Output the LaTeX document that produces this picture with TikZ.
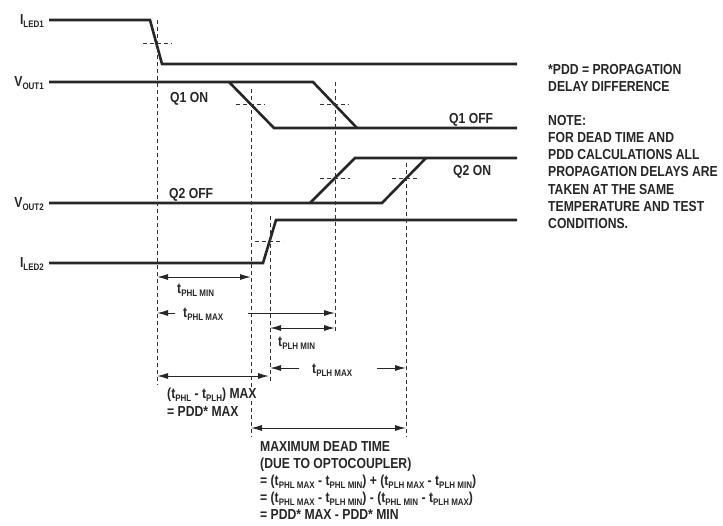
\documentclass[tikz,border=0pt]{standalone}
\usepackage{fontspec}
\setmainfont{Liberation Sans}[FakeStretch=0.84]
\usetikzlibrary{arrows.meta}
\newcommand{\lowtxt}[1]{\raisebox{-0.4ex}{\fontsize{9.5}{9.5}\selectfont #1}}

\begin{document}
\begin{tikzpicture}[x=1pt,y=-1pt,
  every node/.style={font=\fontsize{14.5}{17.2}\selectfont\bfseries,text=black!85,inner sep=0pt},
  wave/.style={line width=2.6pt,black!85,line join=miter},
  guide/.style={line width=0.8pt,black!80,dash pattern=on 4pt off 3pt},
  dimboth/.style={line width=1pt,black!85,{Latex[length=11pt,width=6pt]}-{Latex[length=11pt,width=6pt]}},
  dimone/.style={line width=1pt,black!85,-{Latex[length=11pt,width=6pt]}}]
\useasboundingbox (0,0) rectangle (723,525);
\node[anchor=base east] (iled1) at (44,24) {I\lowtxt{LED1}};
\node[anchor=base east] (vout1) at (44,86) {V\lowtxt{OUT1}};
\node[anchor=base east] (vout2) at (44,207) {V\lowtxt{OUT2}};
\node[anchor=base east] (iled2) at (44,267) {I\lowtxt{LED2}};
\draw[wave] (49,20) -- (150,20) -- (162,64) -- (517,64);
\draw[wave] (49,82) -- (313,82) -- (357,128);
\draw[wave] (229,82) -- (274,128) -- (517,128);
\draw[wave] (49,203) -- (382,203) -- (426,158);
\draw[wave] (310,203) -- (355,158) -- (517,158);
\draw[wave] (49,263) -- (263,263) -- (276,220) -- (517,220);
\draw[guide] (157,20) -- (157,385);
\draw[guide] (251,89) -- (251,388);
\draw[guide] (251,401) -- (251,437);
\draw[guide] (270,216) -- (270,381);
\draw[guide] (335,82) -- (335,333);
\draw[guide] (406,163) -- (406,437);
\draw[guide] (143,43) -- (172,43);
\draw[guide] (236,104) -- (265,104);
\draw[guide] (320,104) -- (349,104);
\draw[guide] (320,178) -- (350,178);
\draw[guide] (392,178) -- (420,178);
\draw[guide] (255,241) -- (283,241);
\node[anchor=base west] (q1on) at (170,102) {Q1 ON};
\node[anchor=base west] (q1off) at (449,123) {Q1 OFF};
\node[anchor=base west] (q2on) at (453,175) {Q2 ON};
\node[anchor=base west] (q2off) at (169,198) {Q2 OFF};
\coordinate (a1) at (157,277); \coordinate (b1) at (251,277);
\coordinate (a2) at (175,313); \coordinate (b2) at (157,313);
\coordinate (c2) at (248,313); \coordinate (d2) at (335,313);
\coordinate (a3) at (270,328); \coordinate (b3) at (335,328);
\coordinate (a4) at (299,368); \coordinate (b4) at (270,368);
\coordinate (c4) at (377,368); \coordinate (d4) at (406,368);
\coordinate (a5) at (157,376); \coordinate (b5) at (269,376);
\coordinate (a6) at (251,428); \coordinate (b6) at (406,428);
\draw[dimboth] (a1) -- (b1);
\draw[dimone] (a2) -- (b2);
\draw[dimone] (c2) -- (d2);
\draw[dimboth] (a3) -- (b3);
\draw[dimone] (a4) -- (b4);
\draw[dimone] (c4) -- (d4);
\draw[dimboth] (a5) -- (b5);
\draw[dimboth] (a6) -- (b6);
\node[anchor=base west] (phlmin) at (177,293) {t\lowtxt{PHL MIN}};
\node[anchor=base west] (phlmax) at (183,317) {t\lowtxt{PHL MAX}};
\node[anchor=base west] (plhmin) at (278,346) {t\lowtxt{PLH MIN}};
\node[anchor=base west] (plhmax) at (312,373) {t\lowtxt{PLH MAX}};
\node[anchor=base west] (pddmax) at (167,398) {(t\lowtxt{PHL} - t\lowtxt{PLH}) MAX};
\node[anchor=base west] (pddeq) at (167,416) {= PDD* MAX};
\node[anchor=north west,align=left] (dead) at (260,441) {MAXIMUM DEAD TIME\\
(DUE TO OPTOCOUPLER)\\
= (t\lowtxt{PHL MAX} - t\lowtxt{PHL MIN}) + (t\lowtxt{PLH MAX} - t\lowtxt{PLH MIN})\\
= (t\lowtxt{PHL MAX} - t\lowtxt{PLH MIN}) - (t\lowtxt{PHL MIN} - t\lowtxt{PLH MAX})\\
= PDD* MAX - PDD* MIN};
\node[anchor=north west,align=left] (pdd) at (548,64) {*PDD = PROPAGATION\\
DELAY DIFFERENCE};
\node[anchor=north west,align=left] (note) at (548,115) {NOTE:\\
FOR DEAD TIME AND\\
PDD CALCULATIONS ALL\\
PROPAGATION DELAYS ARE\\
TAKEN AT THE SAME\\
TEMPERATURE AND TEST\\
CONDITIONS.};
\end{tikzpicture}
\end{document}
